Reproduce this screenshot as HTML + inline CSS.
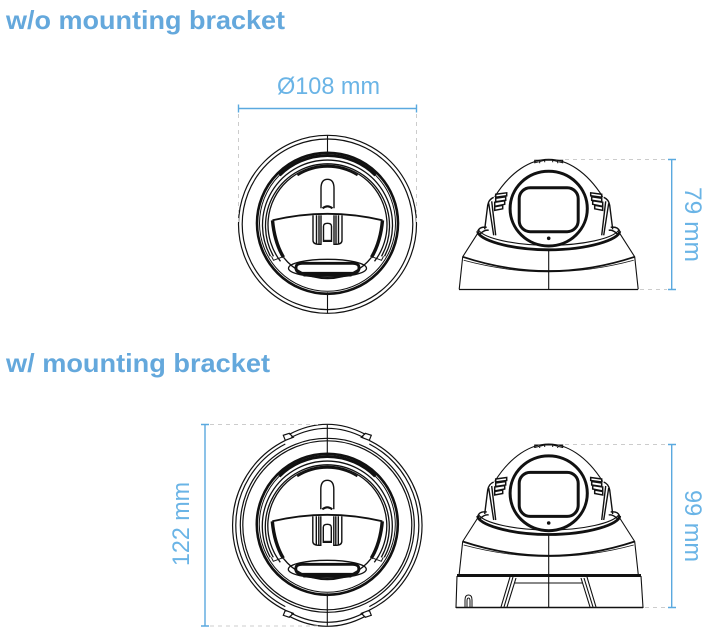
<!DOCTYPE html>
<html>
<head>
<meta charset="utf-8">
<style>
html,body{margin:0;padding:0;background:#fff;width:714px;height:642px;overflow:hidden}
svg{display:block}
text{font-family:"Liberation Sans",sans-serif;fill:#5fa9de}
.h{font-weight:700;font-size:26px;fill:#64a8dc}
.d{font-size:24px;fill:#6ab4e6}
.k{fill:none;stroke:#111;stroke-width:1.2}
.dim{stroke:#5aa9df;stroke-width:1.4;fill:none}
.dash{stroke:#ccc;stroke-width:1;stroke-dasharray:4 4;fill:none}
</style>
</head>
<body>
<svg width="714" height="642" viewBox="0 0 714 642" xmlns="http://www.w3.org/2000/svg">
<defs>
<g id="inner" class="k">
  <circle cy="-1" r="70.5" stroke-width="2.6"/>
  <path d="M-48 -48A68 68 0 0 1 48 -48" stroke-width="3" transform="translate(0 -1)"/>
  <circle cy="-1" r="68" stroke-width="1"/>
  <path d="M-57 32A65 65 0 1 1 57 32" stroke-width="1.3"/>
  <path d="M-54 32A62 62 0 1 1 54 32" stroke-width="1.3"/>
  <path d="M-47 37A59.5 59.5 0 1 1 47 37" stroke-width="1.3"/>
  <path d="M-30 -49A57 57 0 0 1 30 -49" stroke-width="2"/>
  <path d="M-56 32L-54 36L-46 33M56 32L54 36L46 33" stroke-width="1"/>
  <path d="M-55 -4Q-53 18-44 33" stroke-width="3.4"/>
  <path d="M55 -4Q53 18 44 33" stroke-width="3.4"/>
  <path d="M-44 33A56 56 0 0 0 44 33" stroke-width="1.3"/>
  <path d="M-55 -4Q0 -17 55 -4" stroke-width="1.8"/>
  <path d="M-6.5 -16V-36Q-6.5 -45 0 -45Q6.5 -45 6.5 -36V-16" stroke-width="1.4"/>
  <path d="M-5 -16Q0 -20 5 -16" stroke-width="2"/>
  <path d="M-14.5 -9V16Q-14.5 20-9 20H-6.5V-9M-11 -9V20M-8.5 -9V20M14.5 -9V16Q14.5 20 9 20H6.5V-9M11 -9V20M8.5 -9V20" stroke-width="1.4"/>
  <path d="M-4 17V2Q-4 -1 0 -1Q4 -1 4 2V17Z" stroke-width="1.4"/>
  <path d="M-4 16H4" stroke-width="1"/>
  <ellipse cx="0" cy="44" rx="39" ry="9" stroke-width="1.3"/>
  <path d="M-31 41Q-29 39-25 39H25Q29 39 31 41Q33 46 28 49H-28Q-33 46-31 41Z" stroke-width="2.8"/>
  <path d="M-24 51H24" stroke-width="2.4"/>
</g>
<g id="side" class="k">
  <path d="M-54 37.5C-38 12-18 0 0 0C18 0 38 12 54 37.5" stroke-width="1.1"/>
  <path d="M-14 4L-14 1H14V4" stroke-width="1"/>
  <path d="M-14 3.5L-4 1M-9 1L-9 4M-4 1V3M4 1V3M9 1V4M4 1L14 3.5" stroke-width="1"/>
  <ellipse cx="0" cy="49.3" rx="38.6" ry="37.4" stroke-width="3"/>
  <rect x="-29.5" y="28.4" width="59" height="44" rx="11" stroke-width="3"/>
  <circle cx="0" cy="79" r="1.8" fill="#111" stroke="none"/>
  <path d="M-53 35L-42 33.5V36.5L-53 38ZM-53 39L-43 37.5V41L-53 42.5ZM-54 43L-44 41.5V45L-54 47ZM-54 47.5L-46 46V49.5L-54 51Z" stroke-width="1.5"/>
  <path d="M53 35L42 33.5V36.5L53 38ZM53 39L43 37.5V41L53 42.5ZM54 43L44 41.5V45L54 47ZM54 47.5L46 46V49.5L54 51Z" stroke-width="1.5"/>
  <path d="M-55 38Q-60 40-61 46L-64 70M-57 42L-53 76M-60 44L-55 76" stroke-width="1.4"/>
  <path d="M55 38Q60 40 61 46L64 70M57 42L53 76M60 44L55 76" stroke-width="1.4"/>
  <path d="M-71 72C-71 80-40 90.5 0 90.5C40 90.5 71 80 71 72" stroke-width="2.8"/>
  <path d="M-70 71C-64 79-35 86 0 86C35 86 64 79 70 71" stroke-width="1.1"/>
  <path d="M-71 72Q-69 67-62 68M71 72Q69 67 62 68M-69 75Q-64 70-60 71M69 75Q64 70 60 71" stroke-width="1.4"/>
  <path d="M-71 74L-86 97.5L-89.5 130M71 74L86 97.5L89.5 130" stroke-width="1.1"/>
  <path d="M-86 97.5Q0 126 86 97.5" stroke-width="1.8"/>
  <path d="M-85 101Q0 124 85 101" stroke-width="0.8"/>
  <path d="M0 91V130" stroke-width="1.1"/>
</g>
</defs>

<text class="h" x="6" y="29" textLength="279" lengthAdjust="spacingAndGlyphs">w/o mounting bracket</text>
<text class="h" x="6" y="372" textLength="264" lengthAdjust="spacingAndGlyphs">w/ mounting bracket</text>

<!-- top front -->
<g transform="translate(327.5 224.3)" class="k">
  <circle r="89" stroke-width="1.2"/>
  <circle r="85.3" stroke-width="1.2"/>
  <path d="M0 -89V-71M0 68V89" stroke-width="1.1"/>
  <use href="#inner"/>
</g>
<path class="dim" d="M238.5 104.5V112.5M238.5 108.5H416.5M416.5 104.5V112.5"/>
<path class="dash" d="M238.5 114V222M416.5 114V222"/>
<text class="d" x="277" y="94" textLength="103" lengthAdjust="spacingAndGlyphs">Ø108 mm</text>

<!-- top side -->
<use href="#side" x="548.7" y="159.3"/>
<path class="k" d="M459 289.5H638" stroke-width="1.4"/>
<path class="dim" d="M668 159.5H676M671.7 159.5V289.5M668 289.5H676"/>
<path class="dash" d="M565 159.5H667M640 289.5H667"/>
<text class="d" transform="translate(685 187) rotate(90)" x="0" y="0" textLength="75" lengthAdjust="spacingAndGlyphs">79 mm</text>

<!-- bottom front -->
<g transform="translate(327.3 525.3)" class="k">
  <path d="M-42 -84.9A94.7 94.7 0 0 0 -42 84.9M42 -84.9A94.7 94.7 0 0 1 42 84.9" stroke-width="1.2"/>
  <path d="M-42 -81.3A91.5 91.5 0 0 0 -42 81.3M42 -81.3A91.5 91.5 0 0 1 42 81.3" stroke-width="1.2"/>
  <circle r="87" stroke-width="1.2"/>
  <circle r="84.5" stroke-width="1.2"/>
  <path d="M-38 -91Q0 -111 38 -91" stroke-width="1.2"/>
  <path d="M-36 -88Q0 -106 36 -88" stroke-width="1.2"/>
  <path d="M-42 -85L-44 -90L-38 -92L-34 -88Z M42 -85L44 -90L38 -92L34 -88Z" stroke-width="1.2"/>
  <path d="M-38 91Q0 111 38 91" stroke-width="1.2"/>
  <path d="M-36 88Q0 106 36 88" stroke-width="1.2"/>
  <path d="M-42 85L-44 90L-38 92L-34 88Z M42 85L44 90L38 92L34 88Z" stroke-width="1.2"/>
  <path d="M0 -100.5V-71M0 68V100.5" stroke-width="1.1"/>
  <use href="#inner"/>
</g>
<path class="dim" d="M201 424.5H209M205 424.5V626M201 626H209"/>
<path class="dash" d="M210 424.5H320M210 626H320"/>
<text class="d" transform="translate(189 566) rotate(-90)" x="0" y="0" textLength="84" lengthAdjust="spacingAndGlyphs">122 mm</text>

<!-- bottom side -->
<use href="#side" x="548.7" y="444"/>
<g class="k">
  <path d="M457 575.5H641" stroke-width="3"/>
  <path d="M457 576L456 607.5H643L641 576" stroke-width="1.1"/>
  <path d="M456 607.5H643" stroke-width="1.4"/>
  <path d="M510 577L501 607M513 577L504 607M516 578L507 607" stroke-width="1.1"/>
  <path d="M584 578L593 607M587 577L596 607M581 578L590 607" stroke-width="1.1"/>
  <path d="M515 583H583" stroke-width="1.1"/>
  <path d="M465 607V600Q465 595 468.5 595Q472 595 472 600V607M467 607V601Q467 598 468.5 598Q470 598 470 601V607" stroke-width="1"/>
  <path d="M548.7 574V607" stroke-width="1.1"/>
</g>
<path class="dim" d="M668 444.5H676M671.7 444.5V607.5M668 607.5H676"/>
<path class="dash" d="M565 444.5H667M645 607.5H667"/>
<text class="d" transform="translate(685 490) rotate(90)" x="0" y="0" textLength="72" lengthAdjust="spacingAndGlyphs">99 mm</text>
</svg>
</body>
</html>
